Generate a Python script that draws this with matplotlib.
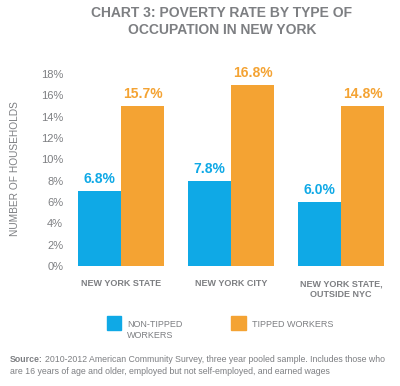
import matplotlib
matplotlib.use("Agg")
import matplotlib.pyplot as plt
import numpy as np

# data (bar heights as drawn, labels as printed)
categories = ["NEW YORK STATE", "NEW YORK CITY", "NEW YORK STATE,\nOUTSIDE NYC"]
non_tipped_bars = [7, 8, 6]
tipped_bars = [15, 17, 15]
non_tipped_labels = ["6.8%", "7.8%", "6.0%"]
tipped_labels = ["15.7%", "16.8%", "14.8%"]
y_ticks = [0, 2, 4, 6, 8, 10, 12, 14, 16, 18]

BLUE = "#0fa9e6"
ORANGE = "#f4a333"
GRAY = "#7d7f82"
W, H = 400, 386

plt.rcParams["font.family"] = ["Liberation Sans", "DejaVu Sans"]


def fx(px):
    return px / W


def fy(py):
    return 1 - py / H


fig = plt.figure(figsize=(4.0, 3.86), dpi=100)
ax = fig.add_axes([0.165, 0.311, 0.825, 0.497])

x = np.arange(len(categories))
width = 0.39
ax.bar(x - width / 2, non_tipped_bars, width, color=BLUE)
ax.bar(x + width / 2, tipped_bars, width, color=ORANGE)

for xi, h, lab in zip(x, non_tipped_bars, non_tipped_labels):
    ax.text(xi - width / 2, h + 0.75, lab, ha="center", va="baseline",
            color=BLUE, fontsize=10, fontweight="bold")
for xi, h, lab in zip(x, tipped_bars, tipped_labels):
    ax.text(xi + width / 2, h + 0.75, lab, ha="center", va="baseline",
            color=ORANGE, fontsize=10, fontweight="bold")

ax.set_xlim(-0.5, 2.5)
ax.set_ylim(0, 18)
ax.set_yticks(y_ticks)
ax.set_yticklabels([f"{t}%" for t in y_ticks], color=GRAY, fontsize=8)
ax.set_xticks(x)
ax.set_xticklabels(categories, color=GRAY, fontsize=6.5, fontweight="bold",
                   linespacing=1.3)
ax.tick_params(length=0)
ax.tick_params(axis="y", pad=2)
ax.tick_params(axis="x", pad=9.5)
for s in ax.spines.values():
    s.set_visible(False)

fig.text(fx(15), fy(169), "NUMBER OF HOUSEHOLDS", rotation=90, ha="center",
         va="center", color=GRAY, fontsize=7.3)

# title
fig.text(fx(222), fy(17), "CHART 3: POVERTY RATE BY TYPE OF", ha="center",
         va="baseline", color=GRAY, fontsize=10, fontweight="bold")
fig.text(fx(222), fy(34), "OCCUPATION IN NEW YORK", ha="center",
         va="baseline", color=GRAY, fontsize=10, fontweight="bold")

# legend
fig.patches.append(plt.Rectangle((fx(107), fy(330)), 14 / W, 14 / H,
                                 transform=fig.transFigure, color=BLUE))
fig.patches.append(plt.Rectangle((fx(231), fy(330)), 15 / W, 14 / H,
                                 transform=fig.transFigure, color=ORANGE))
fig.text(fx(127), fy(327), "NON-TIPPED", ha="left", va="baseline",
         color=GRAY, fontsize=6.5)
fig.text(fx(127), fy(338), "WORKERS", ha="left", va="baseline",
         color=GRAY, fontsize=6.5)
fig.text(fx(252), fy(327), "TIPPED WORKERS", ha="left", va="baseline",
         color=GRAY, fontsize=6.5)

# source note
src = fig.text(fx(10), fy(362), "Source:", ha="left", va="baseline",
               color=GRAY, fontsize=6.3, fontweight="bold")
fig.canvas.draw()
bb = src.get_window_extent()
fig.text(bb.x1 / W + 2 / W, fy(362),
         "2010-2012 American Community Survey, three year pooled sample. Includes those who",
         ha="left", va="baseline", color=GRAY, fontsize=6.3)
fig.text(fx(10), fy(374),
         "are 16 years of age and older, employed but not self-employed, and earned wages",
         ha="left", va="baseline", color=GRAY, fontsize=6.3)

fig.savefig("out.png", dpi=100)
